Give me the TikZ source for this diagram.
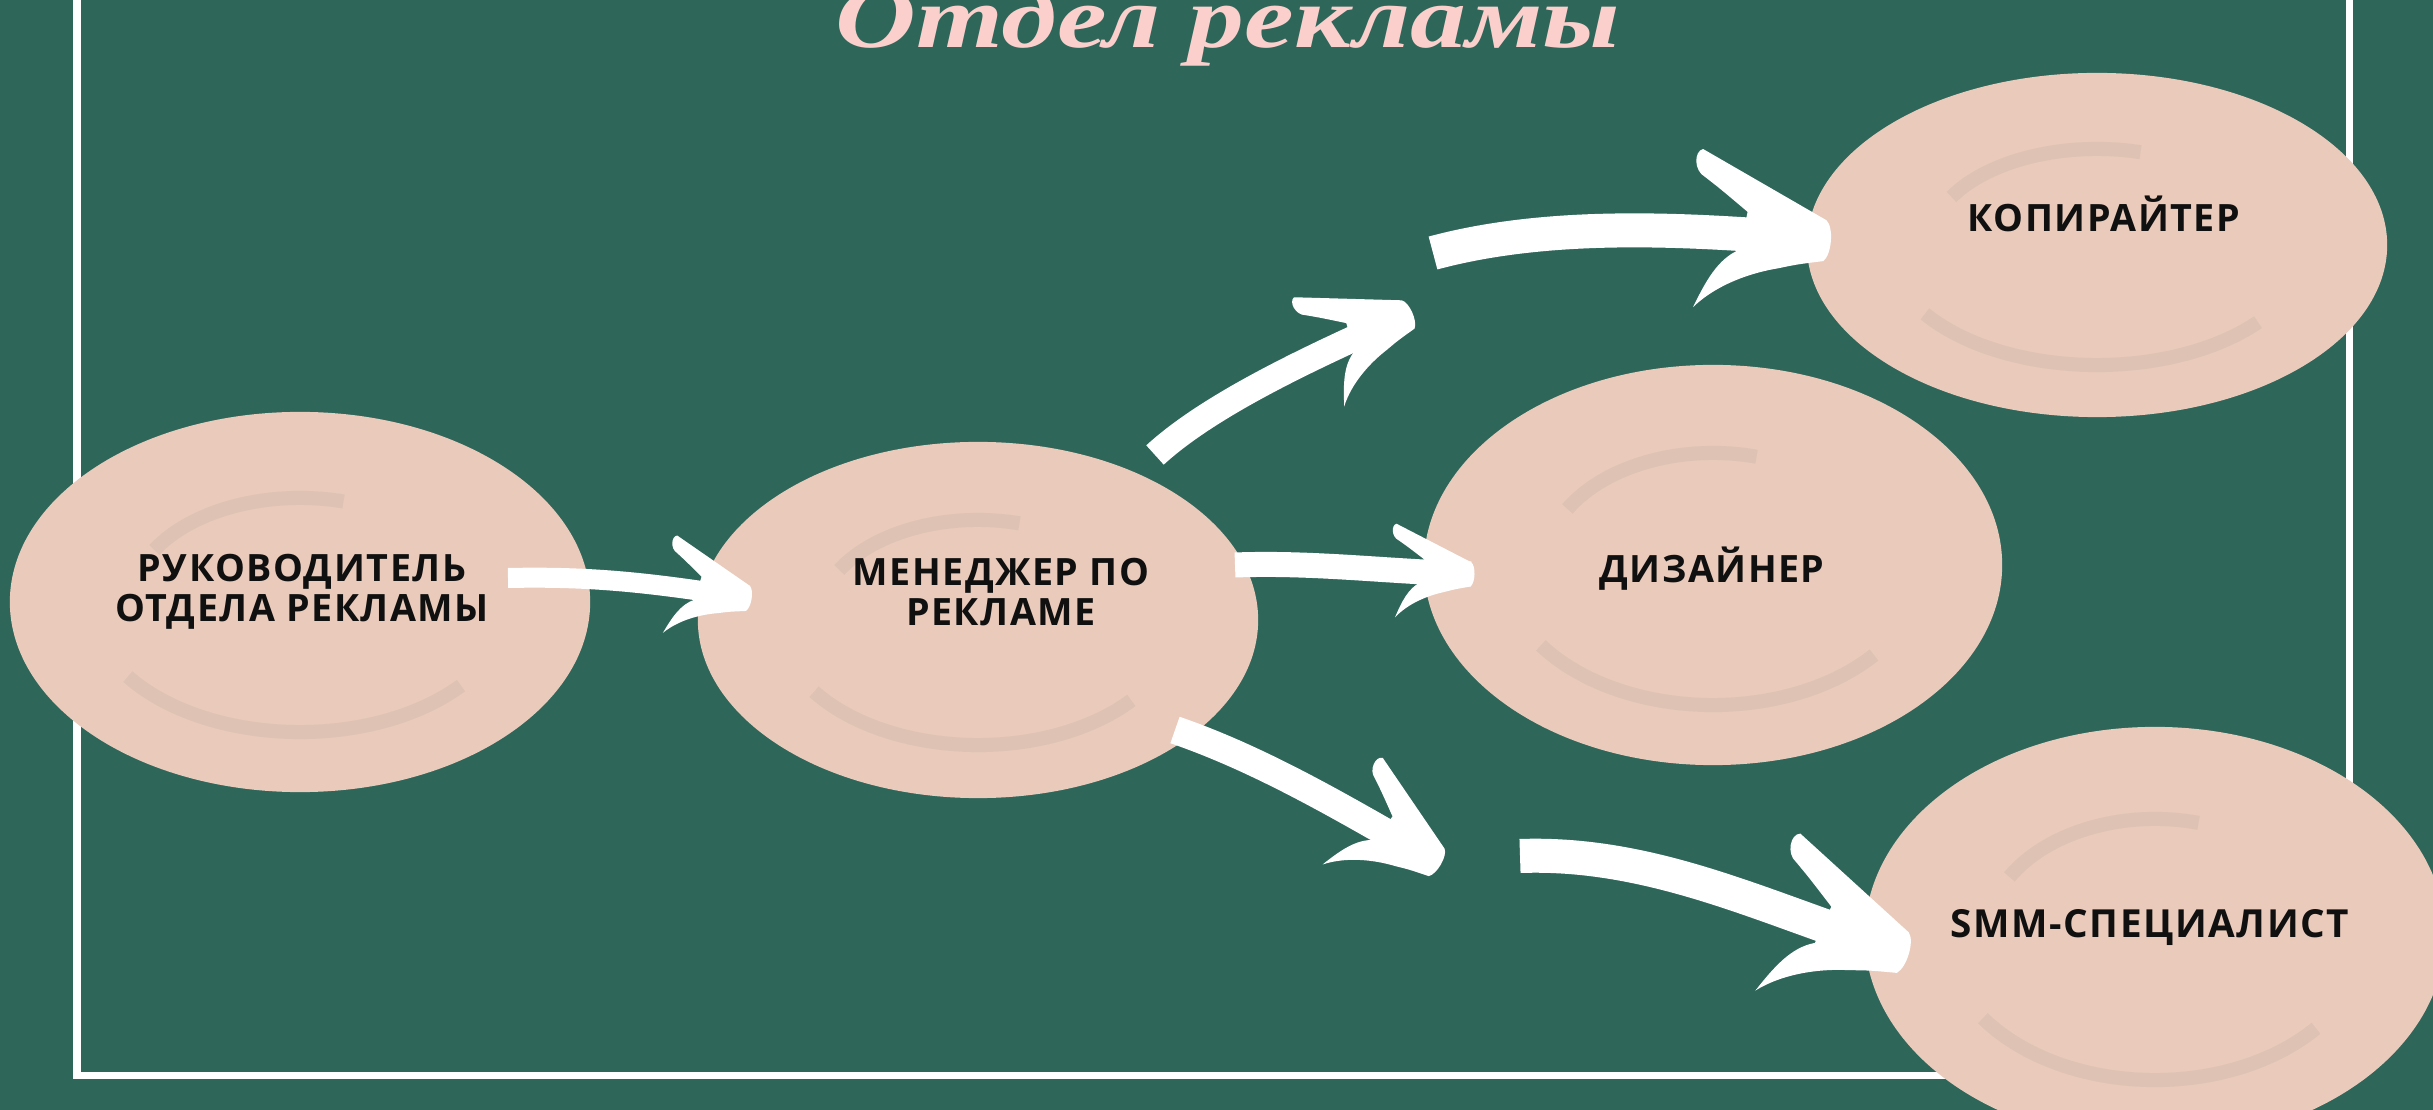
\documentclass[tikz,border=0pt]{standalone}
\usepackage{fontspec}
\setmainfont{Open Sans}
\newfontfamily\titlefont{Liberation Serif}
\newfontfamily\lblfont{Open Sans}[LetterSpace=4]
\usetikzlibrary{shapes.geometric,decorations.markings}
\definecolor{bgc}{RGB}{46,102,90}
\definecolor{peach}{RGB}{233,202,187}
\definecolor{streakc}{RGB}{120,118,108}
\definecolor{titlec}{RGB}{250,207,204}
\definecolor{inkc}{RGB}{16,16,16}
\newcommand\brushhead{\fill[white] (0cm,-0.16cm) .. controls (0.06cm,-0.10cm) and (0.06cm,0.10cm) .. (0cm,0.15cm) -- (-0.97cm,0.62cm) .. controls (-1.04cm,0.60cm) and (-1.03cm,0.45cm) .. (-0.94cm,0.41cm) .. controls (-0.82cm,0.33cm) .. (-0.60cm,0.17cm) -- (-0.64cm,-0.12cm) .. controls (-0.80cm,-0.20cm) and (-0.88cm,-0.38cm) .. (-0.96cm,-0.58cm) .. controls (-0.80cm,-0.40cm) and (-0.55cm,-0.29cm) .. (-0.34cm,-0.24cm) .. controls (-0.20cm,-0.20cm) .. (0cm,-0.16cm) -- cycle;}
\tikzset{
  blob/.style={ellipse, fill=peach, inner sep=0pt, draw=none},
  lbl/.style={text=inkc, font=\lblfont\bfseries\fontsize{10.7pt}{11.4pt}\selectfont, align=center, inner sep=0pt},
  brush/.style 2 args={draw=white, line width=#1, postaction={decorate, decoration={markings, mark=at position 1 with {\begin{scope}[scale=#2]\brushhead\end{scope}}}}},
  streak/.style={draw=streakc, opacity=0.09, line width=4pt},
  frame/.style={draw=white, line width=0.07cm}
}
\begin{document}
\begin{tikzpicture}[x=0.01cm, y=-0.01cm]
\clip (0,0) rectangle (2433,1110);
\fill[bgc] (0,0) rectangle (2433,1110);
% frame
\draw[frame] (77,-30) rectangle (2349,1075);
% title
\node[anchor=base, text=titlec, inner sep=0pt, font=\titlefont\bfseries\itshape\fontsize{25pt}{28pt}\selectfont, xscale=1.27] (title) at (1228,48) {Отдел рекламы};
% blobs
\node[blob, minimum width=5.8cm, minimum height=3.8cm] (b1) at (300,602) {};
\node[blob, minimum width=5.6cm, minimum height=3.56cm] (b2) at (978,620) {};
\node[blob, minimum width=5.78cm, minimum height=4.0cm] (b3) at (1713,565) {};
\node[blob, minimum width=5.8cm, minimum height=3.44cm] (b4) at (2097,245) {};
\node[blob, minimum width=5.8cm, minimum height=4.16cm] (b5) at (2155,935) {};
% streaks
\foreach \c/\rx/\ry in {b1/2.1/1.3, b2/2.0/1.25, b3/2.1/1.4, b4/2.1/1.2, b5/2.1/1.45}{
  \begin{scope}[shift={(\c.center)}]
    \draw[streak] (215:\rx cm and \ry cm) arc[start angle=215, end angle=320, x radius=\rx cm, y radius=\ry cm];
    \draw[streak] (150:0.8*\rx cm and 0.8*\ry cm) arc[start angle=150, end angle=75, x radius=0.8*\rx cm, y radius=0.8*\ry cm];
  \end{scope}
}
% arrow end points
\coordinate (s1) at (508,578);  \coordinate (e1) at (748,598);
\coordinate (s2) at (1155,455); \coordinate (m2) at (1408,314);
\coordinate (s3) at (1175,730); \coordinate (m3) at (1437,862);
\coordinate (s4) at (1235,565); \coordinate (e4) at (1471,574);
\coordinate (s5) at (1433,253); \coordinate (e5) at (1825,240);
\coordinate (s6) at (1520,856); \coordinate (e6) at (1903,952);
% arrows
\draw[brush={0.20cm}{0.82}] (s1) .. controls +(90,-2) and +(-90,-14) .. (e1);
\draw[brush={0.26cm}{1.0}] (s2) .. controls +(60,-55) and +(-80,36) .. (m2);
\draw[brush={0.28cm}{1.02}] (s3) .. controls +(90,31) and +(-87,-50) .. (m3);
\draw[brush={0.25cm}{0.78}] (s4) .. controls +(80,-3) and +(-80,-2) .. (e4);
\draw[brush={0.34cm}{1.32}] (s5) .. controls +(130,-35) and +(-110,-8) .. (e5);
\draw[brush={0.34cm}{1.36}] (s6) .. controls +(140,-5) and +(-125,-37) .. (e6);
% labels
\node[lbl] (t1) at (302,592) {РУКОВОДИТЕЛЬ\\ОТДЕЛА РЕКЛАМЫ};
\node[lbl] (t2) at (1001,592) {МЕНЕДЖЕР ПО\\РЕКЛАМЕ};
\node[lbl, anchor=base] (t3) at (1712,583) {ДИЗАЙНЕР};
\node[lbl, anchor=base] (t4) at (2104,232) {КОПИРАЙТЕР};
\node[lbl, anchor=base, font=\lblfont\bfseries\fontsize{11pt}{12pt}\selectfont] (t5) at (2150,937) {SMM-СПЕЦИАЛИСТ};
\end{tikzpicture}
\end{document}
